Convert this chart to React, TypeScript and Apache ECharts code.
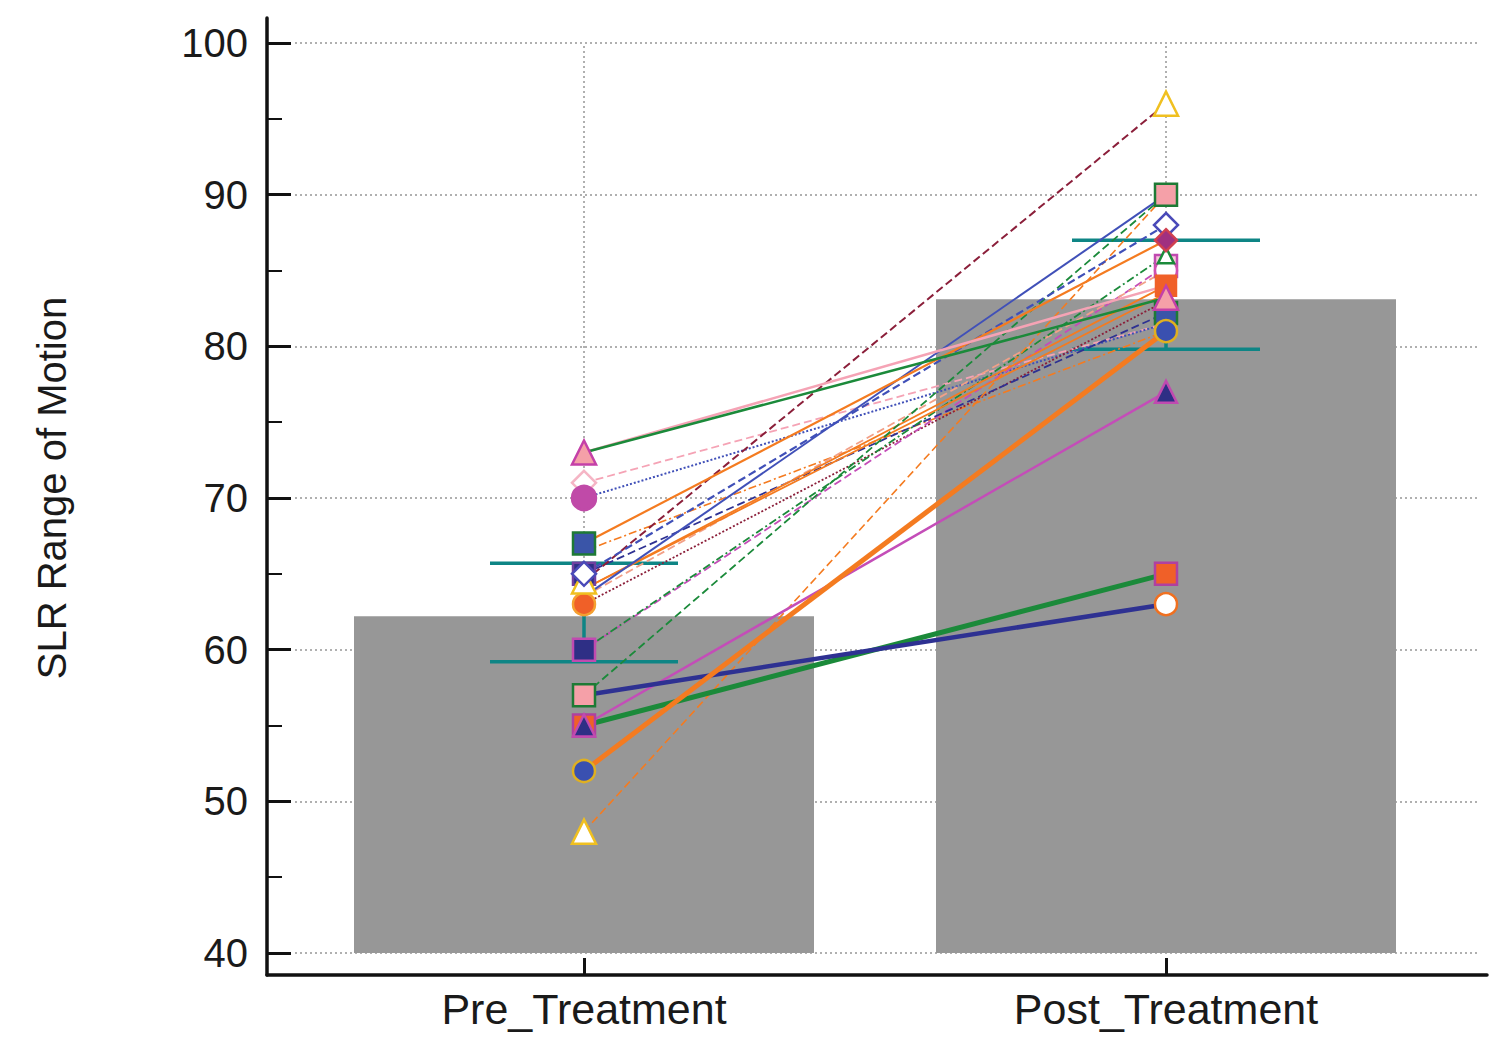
import React, { useEffect, useRef } from "react";
import * as echarts from "echarts";

// ---------------- data ----------------
const categories = ["Pre_Treatment", "Post_Treatment"];
const meanValues = [62.2, 83.1];
const errorLow = [59.2, 79.8];
const errorHigh = [65.7, 87.0];
const yTickMin = 40;
const yTickMax = 100;
const yTickStep = 10;

// one entry per subject (drawing order)
const subjectIds = ["P", "M", "N", "Q", "R", "T", "U", "G", "S", "V", "E", "F", "H", "J", "I", "O", "L", "K", "B", "D", "A", "C"];
const preValues = [66.5, 71, 70, 63, 60, 65, 63.5, 60, 64, 64, 48, 57, 64.5, 65, 63.5, 67, 73, 73, 55, 55, 57, 52];
const postValues = [81, 81.5, 81.5, 83, 85.3, 82.2, 85, 86, 83.5, 84, 90, 90, 96, 88, 90, 87, 84, 83.2, 65, 77, 63, 81];

// ---------------- styles ----------------
const C = {
  navy: "#2e3192",
  blue: "#4050b8",
  green: "#1b8a3a",
  orange: "#f47b20",
  magenta: "#c44db8",
  pink: "#f5a3b5",
  brown: "#8b1f3a",
  salmon: "#f2a088",
  teal: "#0e8585",
};
const DASH = [8, 4];
const DOT = [2, 2];
const DASHDOT = [8, 3, 2, 3];

const lineColors = ["orange", "pink", "blue", "brown", "magenta", "navy", "salmon", "green", "orange", "orange", "orange", "green", "brown", "blue", "blue", "orange", "pink", "green", "green", "magenta", "navy", "orange"];
const lineTypes = ["dashdot", "dashed", "dotted", "dotted", "dashed", "dashed", "dashed", "dashdot", "solid", "solid", "dashed", "dashed", "dashed", "dashed", "solid", "solid", "solid", "solid", "solid", "solid", "solid", "solid"];
const lineWidths = [1.6, 1.8, 2, 1.8, 1.8, 1.8, 1.8, 1.8, 1.8, 1.8, 1.6, 1.8, 2, 2.2, 2, 2.2, 2.5, 2.5, 5, 2.5, 4.5, 5];

const markers: Record<string, { symbol: string; size: number; color: string; border: string }> = {
  pinkTri: { symbol: "triangle", size: 24, color: "#f5a0a8", border: "#c440a8" },
  whiteDiaPink: { symbol: "diamond", size: 24, color: "#ffffff", border: "#f5b5c5" },
  magCircle: { symbol: "circle", size: 24, color: "#c04aa8", border: "#c04aa8" },
  blueSqGreen: { symbol: "rect", size: 22, color: "#3a55a8", border: "#1e7a35" },
  navySqPurple: { symbol: "rect", size: 22, color: "#2e2f85", border: "#7040a0" },
  whiteDiaBlue: { symbol: "diamond", size: 24, color: "#ffffff", border: "#4a4ab8" },
  whiteTriYellow: { symbol: "triangle", size: 24, color: "#ffffff", border: "#f0c020" },
  orangeCircle: { symbol: "circle", size: 22, color: "#f06028", border: "#f5a030" },
  navySqMag: { symbol: "rect", size: 22, color: "#2e2f85", border: "#c04ab0" },
  pinkSqGreen: { symbol: "rect", size: 22, color: "#f5a0a8", border: "#1e7a35" },
  orangeSqMag: { symbol: "rect", size: 22, color: "#f06028", border: "#b040a0" },
  navyTriMag: { symbol: "triangle", size: 22, color: "#2e2f85", border: "#c04ab0" },
  blueCircleYellow: { symbol: "circle", size: 22, color: "#3a50b0", border: "#e0b020" },
  whiteCircleOrange: { symbol: "circle", size: 22, color: "#ffffff", border: "#f07020" },
  purpleDia: { symbol: "diamond", size: 22, color: "#a03080", border: "#d04050" },
  whiteCircleMag: { symbol: "circle", size: 22, color: "#ffffff", border: "#d050b0" },
  pinkSqMag: { symbol: "rect", size: 22, color: "#f8c8dc", border: "#c04ab0" },
  greenTri: { symbol: "triangle", size: 16, color: "#ffffff", border: "#1b8a3a" },
  orangeSq: { symbol: "rect", size: 20, color: "#f06028", border: "#f06028" },
};
const preMarkers = ["", "whiteDiaPink", "magCircle", "orangeCircle", "navySqMag", "navySqPurple", "", "", "", "", "whiteTriYellow", "pinkSqGreen", "whiteTriYellow", "whiteDiaBlue", "", "blueSqGreen", "", "pinkTri", "orangeSqMag", "navyTriMag", "", "blueCircleYellow"];
const postMarkers = ["", "", "", "", "pinkSqMag", "blueSqGreen", "whiteCircleMag", "greenTri", "", "orangeSq", "", "pinkSqGreen", "whiteTriYellow", "whiteDiaBlue", "", "purpleDia", "", "pinkTri", "orangeSqMag", "navyTriMag", "whiteCircleOrange", "blueCircleYellow"];

const FONT = "'Liberation Sans', Arial, Helvetica, sans-serif";

function dashOf(t: string): any {
  if (t === "dashed") return DASH;
  if (t === "dotted") return DOT;
  if (t === "dashdot") return DASHDOT;
  return "solid";
}

function markerItem(key: string, x: number, y: number) {
  const m = markers[key];
  return {
    value: [x, y],
    symbol: m.symbol,
    symbolSize: m.size,
    itemStyle: { color: m.color, borderColor: m.border, borderWidth: 2.5, opacity: 1 },
  };
}

function buildOption(): any {
  const lineSeries = subjectIds.map((id, i) => ({
    type: "line",
    name: id,
    xAxisIndex: 0,
    yAxisIndex: 0,
    z: 3,
    symbol: "none",
    data: [
      [0, preValues[i]],
      [1, postValues[i]],
    ],
    lineStyle: {
      color: (C as any)[lineColors[i]],
      width: lineWidths[i],
      type: dashOf(lineTypes[i]),
    },
  }));

  const markerData: any[] = [];
  subjectIds.forEach((_, i) => {
    if (preMarkers[i]) markerData.push(markerItem(preMarkers[i], 0, preValues[i]));
    if (postMarkers[i]) markerData.push(markerItem(postMarkers[i], 1, postValues[i]));
  });

  return {
    animation: false,
    backgroundColor: "#ffffff",
    textStyle: { fontFamily: FONT },
    grid: [
      { left: 295, right: 20, top: 43, bottom: 89, containLabel: false },
      { left: 267, right: 13, top: 18, bottom: 67, containLabel: false },
    ],
    xAxis: [
      {
        type: "value",
        gridIndex: 0,
        min: -0.49656,
        max: 1.53952,
        offset: 22,
        axisLine: { show: false, onZero: false },
        axisTick: {
          show: true,
          inside: true,
          length: 17,
          customValues: [0, 1],
          lineStyle: { color: "#111111", width: 3 },
        },
        axisLabel: {
          show: true,
          customValues: [0, 1],
          margin: 12,
          formatter: (v: number) => categories[Math.round(v)] ?? "",
          fontSize: 43,
          color: "#1a1a1a",
          fontFamily: FONT,
        },
        splitLine: { show: false },
      },
      {
        type: "value",
        gridIndex: 1,
        min: 0,
        max: 1,
        axisLine: { show: true, onZero: false, lineStyle: { color: "#111111", width: 3.5 } },
        axisTick: { show: false },
        axisLabel: { show: false },
        splitLine: { show: false },
      },
    ],
    yAxis: [
      {
        type: "value",
        gridIndex: 0,
        min: yTickMin,
        max: yTickMax,
        interval: yTickStep,
        offset: 28,
        name: "SLR Range of Motion",
        nameLocation: "middle",
        nameRotate: 90,
        nameGap: 195,
        nameTextStyle: { fontSize: 40, color: "#1a1a1a", fontFamily: FONT, padding: [0, 0, 0, 20] },
        axisLine: { show: false, onZero: false },
        axisTick: { show: true, inside: true, length: 24, lineStyle: { color: "#111111", width: 3 } },
        minorTick: { show: true, splitNumber: 2, length: 15, lineStyle: { color: "#111111", width: 2 } },
        axisLabel: { margin: 19, fontSize: 40, color: "#1a1a1a", fontFamily: FONT },
        splitLine: { show: true, lineStyle: { color: "#b0b0b0", width: 2, type: [2, 3] } },
        minorSplitLine: { show: false },
      },
      {
        type: "value",
        gridIndex: 1,
        min: 0,
        max: 1,
        axisLine: { show: true, onZero: false, lineStyle: { color: "#111111", width: 3.5 } },
        axisTick: { show: false },
        axisLabel: { show: false },
        splitLine: { show: false },
      },
    ],
    series: [
      {
        type: "line",
        name: "catGrid",
        xAxisIndex: 0,
        yAxisIndex: 0,
        z: 0,
        symbol: "none",
        silent: true,
        data: [[0, yTickMin]],
        lineStyle: { opacity: 0 },
        markLine: {
          silent: true,
          z: 0,
          symbol: ["none", "none"],
          label: { show: false },
          lineStyle: { color: "#b0b0b0", width: 2, type: [2, 3] },
          data: [{ xAxis: 0 }, { xAxis: 1 }],
        },
      },
      {
        type: "bar",
        name: "mean",
        xAxisIndex: 0,
        yAxisIndex: 0,
        z: 1,
        barWidth: 460,
        itemStyle: { color: "#979797" },
        data: categories.map((_, i) => [i, meanValues[i]]),
      },
      {
        type: "custom",
        name: "error",
        xAxisIndex: 0,
        yAxisIndex: 0,
        z: 2,
        data: categories.map((_, i) => [i, errorLow[i], errorHigh[i]]),
        renderItem: (params: any, api: any) => {
          const x = api.value(0);
          const lo = api.coord([x, api.value(1)]);
          const hi = api.coord([x, api.value(2)]);
          const hw = 94;
          const style = { stroke: C.teal, lineWidth: 3.5 };
          return {
            type: "group",
            children: [
              { type: "line", shape: { x1: lo[0], y1: lo[1], x2: hi[0], y2: hi[1] }, style },
              { type: "line", shape: { x1: lo[0] - hw, y1: lo[1], x2: lo[0] + hw, y2: lo[1] }, style },
              { type: "line", shape: { x1: hi[0] - hw, y1: hi[1], x2: hi[0] + hw, y2: hi[1] }, style },
            ],
          };
        },
      },
      ...lineSeries,
      {
        type: "scatter",
        name: "markers",
        xAxisIndex: 0,
        yAxisIndex: 0,
        z: 4,
        data: markerData,
      },
    ],
  };
}

export default function App() {
  const ref = useRef<HTMLDivElement>(null);
  useEffect(() => {
    document.body.style.margin = "0";
    if (!ref.current) return;
    const chart = echarts.init(ref.current, undefined, { renderer: "svg" });
    chart.setOption(buildOption());
    return () => chart.dispose();
  }, []);
  return <div ref={ref} style={{ width: 1500, height: 1042 }} />;
}
